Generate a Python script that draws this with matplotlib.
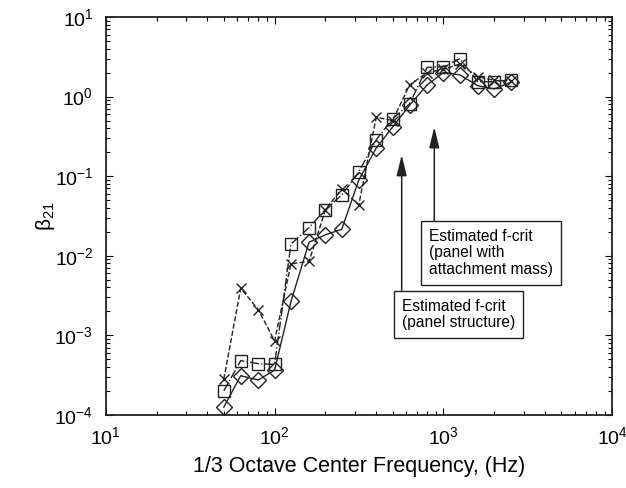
import numpy as np
import matplotlib.pyplot as plt

plt.rcParams['font.family'] = ['Liberation Sans', 'DejaVu Sans']
plt.rcParams['mathtext.fontset'] = 'custom'
plt.rcParams['mathtext.rm'] = 'Liberation Sans'
plt.rcParams['mathtext.it'] = 'Liberation Sans:italic'
plt.rcParams['axes.unicode_minus'] = False

# 1/3 octave band centres (Hz)
freq = [50, 63, 80, 100, 125, 160, 200, 250, 315, 400, 500, 630,
        800, 1000, 1250, 1600, 2000, 2500]

beta_sq = [2.0e-4, 4.8e-4, 4.4e-4, 4.3e-4, 0.014, 0.0226, 0.038, 0.058,
           0.113, 0.287, 0.526, 0.81, 2.33, 2.37, 3.0, 1.54, 1.54, 1.63]
beta_x = [2.8e-4, 3.9e-3, 2.1e-3, 8.5e-4, 7.9e-3, 8.5e-3, 0.038, 0.069,
          0.0434, 0.55, 0.50, 1.40, 2.0, 2.2, 2.56, 1.78, 1.6, 1.58]
beta_dm = [1.25e-4, 3.1e-4, 2.74e-4, 3.65e-4, 2.66e-3, 0.0148, 0.0183,
           0.0215, 0.089, 0.226, 0.414, 0.78, 1.40, 2.01, 1.88, 1.37,
           1.25, 1.51]

# critical frequency estimates and where the arrows end
fcrit_panel = 566
fcrit_mass = 883
tip_panel = 0.185
tip_mass = 0.415

fig = plt.figure(figsize=(6.26, 4.88), dpi=100)
ax = fig.add_axes([0.169, 0.150, 0.809, 0.815])

c = '#222222'
ax.plot(freq, beta_sq, '-.', color=c, lw=1, marker='s', ms=9,
        mfc='none', mec=c, mew=1)
ax.plot(freq, beta_x, '--', color=c, lw=1, marker='x', ms=7,
        mec=c, mew=1)
ax.plot(freq, beta_dm, '-', color=c, lw=1, marker='D', ms=8.5,
        mfc='none', mec=c, mew=1)

ax.set_xscale('log')
ax.set_yscale('log')
ax.set_xlim(10, 1e4)
ax.set_ylim(1e-4, 10)
ax.tick_params(which='both', direction='in', top=True, right=True,
               labelsize=14, width=0.8)
ax.tick_params(which='major', length=5)
ax.tick_params(axis='y', which='major', pad=9)
ax.tick_params(axis='x', which='major', pad=8)
ax.tick_params(which='minor', length=3)
for s in ax.spines.values():
    s.set_linewidth(1.3)
    s.set_color(c)

ax.set_xlabel('1/3 Octave Center Frequency, (Hz)', fontsize=15.5,
              labelpad=6)
ax.set_ylabel(r'$\mathregular{\beta_{21}}$', fontsize=15, labelpad=-2)

# arrows from the text boxes up to the curve
ap = dict(arrowstyle='-|>,head_length=0.9,head_width=0.22', color=c,
          lw=1.1, mutation_scale=14, shrinkA=0, shrinkB=0)
ax.annotate('', xy=(fcrit_panel, tip_panel), xytext=(fcrit_panel, 3.65e-3),
            arrowprops=ap)
ax.annotate('', xy=(fcrit_mass, tip_mass), xytext=(fcrit_mass, 0.0276),
            arrowprops=ap)

bx = dict(boxstyle='square,pad=0.5', fc='white', ec=c, lw=1)
ax.text(0.638, 0.468, 'Estimated f-crit\n(panel with\nattachment mass)',
        transform=ax.transAxes, ha='left', va='top', fontsize=11.2,
        linespacing=1.15, bbox=bx)
ax.text(0.584, 0.292, 'Estimated f-crit\n(panel structure)',
        transform=ax.transAxes, ha='left', va='top', fontsize=11.2,
        linespacing=1.15, bbox=bx)

fig.savefig('out.png', dpi=100)
